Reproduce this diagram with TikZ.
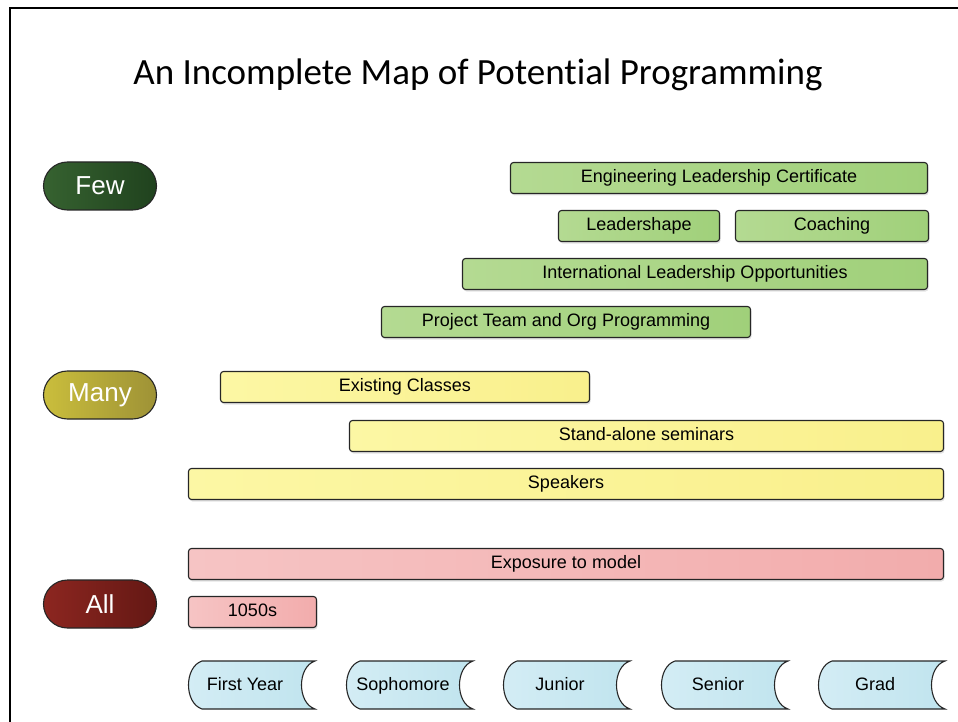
\documentclass[tikz,border=0pt]{standalone}
\usepackage{fontspec}
\setmainfont{Liberation Sans}
\newfontfamily\titlefont[Ligatures=NoCommon]{Carlito}
\usetikzlibrary{shadows}

\definecolor{fewdark}{RGB}{32,66,30}
\definecolor{fewlight}{RGB}{54,98,48}
\definecolor{manydark}{RGB}{158,146,54}
\definecolor{manylight}{RGB}{202,190,60}
\definecolor{alldark}{RGB}{100,24,20}
\definecolor{alllight}{RGB}{140,38,32}
\definecolor{greenlight}{RGB}{180,218,146}
\definecolor{greendark}{RGB}{160,208,122}
\definecolor{yellowlight}{RGB}{252,247,164}
\definecolor{yellowdark}{RGB}{249,240,140}
\definecolor{redlight}{RGB}{246,196,196}
\definecolor{reddark}{RGB}{242,172,172}
\definecolor{bluelight}{RGB}{212,237,245}
\definecolor{bluedark}{RGB}{192,228,238}

\tikzset{
    planbar/.style={draw=black!85, line width=1.1pt, rounded corners=3pt, minimum height=31pt, inner sep=0pt, text height=13pt, text depth=4pt, font=\fontsize{18}{21}\selectfont, drop shadow={opacity=0.22, shadow xshift=1pt, shadow yshift=-2pt}},
    greenbar/.style={planbar, left color=greenlight, right color=greendark},
    yellowbar/.style={planbar, left color=yellowlight, right color=yellowdark},
    redbar/.style={planbar, left color=redlight, right color=reddark},
    pill/.style={draw=black!85, line width=1.1pt, rounded corners=24pt, minimum width=113pt, minimum height=48pt, text=white, font=\fontsize{26}{30}\selectfont},
    yearbox/.style={draw=black!85, line width=1.1pt, left color=bluelight, right color=bluedark}
}

\begin{document}
\begin{tikzpicture}[x=1pt, y=-1pt]

            \useasboundingbox (0,0) rectangle (958,722);
            \draw[line width=2.5pt] (10,722) -- (10,8) -- (958,8);

            \node[font=\titlefont\fontsize{37}{44}\selectfont] (title) at (478,75) {An Incomplete Map of Potential Programming};

            \node[pill, left color=fewlight, right color=fewdark] (few) at (100,186) {Few};
            \node[pill, left color=manylight, right color=manydark] (many) at (100,395) {Many};
            \node[pill, left color=alllight, right color=alldark] (all) at (100,604) {All};

            \node[greenbar, minimum width=417pt] (elc) at (719,178) {Engineering Leadership Certificate};
            \node[greenbar, minimum width=161pt] (shape) at (639,226) {Leadershape};
            \node[greenbar, minimum width=193pt] (coach) at (832,226) {Coaching};
            \node[greenbar, minimum width=465pt] (intl) at (695,274) {International Leadership Opportunities};
            \node[greenbar, minimum width=369pt] (team) at (566,322) {Project Team and Org Programming};

            \node[yellowbar, minimum width=369pt] (classes) at (405,387) {Existing Classes};
            \node[yellowbar, minimum width=594pt] (seminars) at (646.5,436) {Stand-alone seminars};
            \node[yellowbar, minimum width=755pt] (speakers) at (566,484) {Speakers};

            \node[redbar, minimum width=755pt] (exposure) at (566,564) {Exposure to model};
            \node[redbar, minimum width=128pt] (tenfifty) at (252.5,612) {1050s};

            \foreach \x/\yr/\lbl in {188/fy/First Year, 346/so/Sophomore, 503/ju/Junior, 661/se/Senior, 818/gr/Grad}{
                \draw[yearbox] (\x+14,661) -- (\x+127,661) .. controls (\x+109,667) and (\x+109,703) .. (\x+127,709) -- (\x+14,709) .. controls (\x-4,703) and (\x-4,667) .. cycle;
                \node[font=\fontsize{18}{21}\selectfont, anchor=base] (\yr) at (\x+57,690) {\lbl};
            }

\end{tikzpicture}
\end{document}
